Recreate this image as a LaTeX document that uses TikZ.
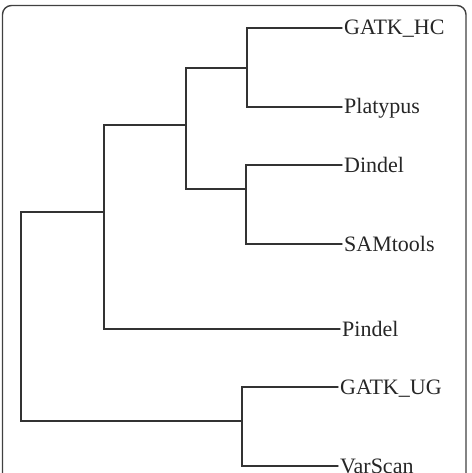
\documentclass[tikz,border=0pt]{standalone}
\usepackage{fontspec}
\setmainfont{Liberation Serif}
\usetikzlibrary{positioning}

\begin{document}
\begin{tikzpicture}[x=1pt,y=-1pt,
  branch/.style={line width=1.4pt, black!80, line cap=round},
  leaf/.style={anchor=west, inner sep=2pt, text height=14pt, text depth=0pt,
    font=\fontsize{22}{26}\selectfont, text=black!85}]
\useasboundingbox (0,0) rectangle (471,473);
\clip (0,0) rectangle (471,473);
% Frame
\draw[line width=1.4pt, black!75, rounded corners=9pt] (2.5,5.5) rectangle (466,495);
% Leaves
\node[leaf] (hc)   at (342,28)  {GATK\_HC};
\node[leaf] (plat) at (342,107) {Platypus};
\node[leaf] (dind) at (342,165) {Dindel};
\node[leaf] (sam)  at (342,244) {SAMtools};
\node[leaf] (pind) at (340,329) {Pindel};
\node[leaf] (ug)   at (338,387) {GATK\_UG};
\node[leaf] (vs)   at (338,466) {VarScan};
% Inner nodes
\coordinate (n1) at (247,68);
\coordinate (n2) at (246,189);
\coordinate (n3) at (186,125);
\coordinate (n4) at (104,212);
\coordinate (n5) at (242,421);
\coordinate (root) at (21,316);
% Branches
\draw[branch] (n1) |- (hc.west);
\draw[branch] (n1) |- (plat.west);
\draw[branch] (n2) |- (dind.west);
\draw[branch] (n2) |- (sam.west);
\draw[branch] (n3) |- (n1);
\draw[branch] (n3) |- (n2);
\draw[branch] (n4) |- (n3);
\draw[branch] (n4) |- (pind.west);
\draw[branch] (n5) |- (ug.west);
\draw[branch] (n5) |- (vs.west);
\draw[branch] (root) |- (n4);
\draw[branch] (root) |- (n5);
\end{tikzpicture}
\end{document}
